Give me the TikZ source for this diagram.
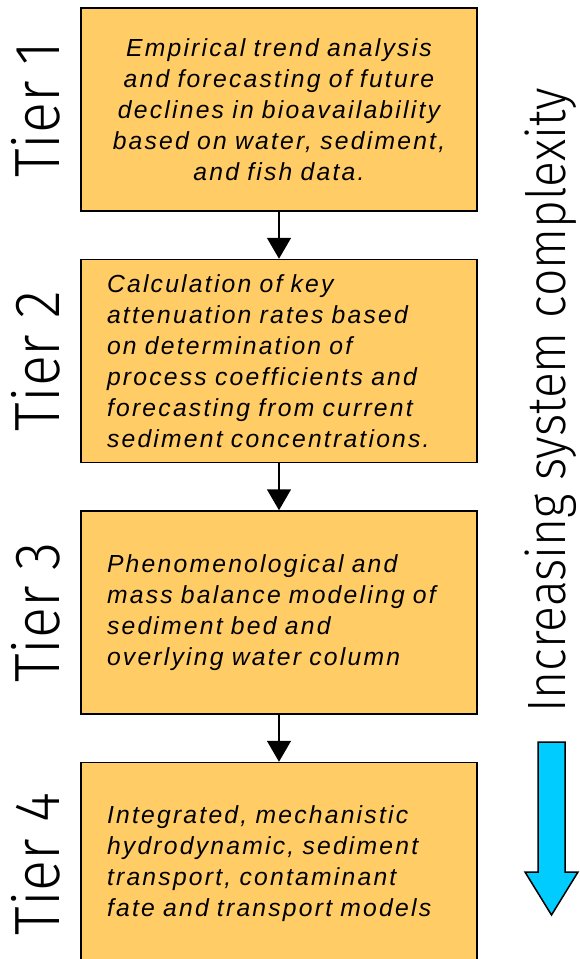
\documentclass[tikz,border=0pt]{standalone}
\usepackage{fontspec}
\setmainfont{Liberation Sans}
\newfontfamily\boxfont{Liberation Sans}[LetterSpace=9.0]
\newfontfamily\tierfont{Fira Sans Light}
\usetikzlibrary{positioning, arrows.meta}

\definecolor{tierorange}{RGB}{255,204,102}
\definecolor{flowcyan}{RGB}{0,204,255}

\tikzset{
    tierbox/.style={draw, line width=1.5pt, fill=tierorange, minimum width=396pt, minimum height=203pt,
        inner xsep=26pt, text width=344pt, font=\boxfont\itshape\fontsize{24.7}{31}\selectfont},
    tierlabel/.style={rotate=90, inner sep=0pt, font=\tierfont\fontsize{64}{64}\selectfont},
    link/.style={line width=1.5pt, -{Triangle[width=24pt, length=21pt]}}
}

\begin{document}
\begin{tikzpicture}[x=1pt, y=-1pt, node distance=47pt]

    % Frame
    \clip (0,0) rectangle (580,959);

    % Tier boxes
    \node[tierbox, align=center] (box1) at (279,109.5) {Empirical trend analysis\\ and forecasting of future\\ declines in bioavailability\\ based on water, sediment,\\ and fish data.};
    \node[tierbox, align=left, below=of box1] (box2) {Calculation of key\\ attenuation rates based\\ on determination of\\ process coefficients and\\ forecasting from current\\ sediment concentrations.};
    \node[tierbox, align=left, below=of box2] (box3) {Phenomenological and\\ mass balance modeling of\\ sediment bed and\\ overlying water column};
    \node[tierbox, align=left, below=of box3] (box4) {Integrated, mechanistic\\ hydrodynamic, sediment\\ transport, contaminant\\ fate and transport models};

    % Tier labels
    \node[tierlabel] (tier1) at ([xshift=-44pt]box1.west) {\scalebox{0.9}[1]{Tier 1}};
    \node[tierlabel] (tier2) at ([xshift=-44pt]box2.west) {\scalebox{0.9}[1]{Tier 2}};
    \node[tierlabel] (tier3) at ([xshift=-44pt]box3.west) {\scalebox{0.9}[1]{Tier 3}};
    \node[tierlabel] (tier4) at ([xshift=-44pt]box4.west) {\scalebox{0.9}[1]{Tier 4}};

    % Links
    \draw[link] (box1.south) -- (box2.north);
    \draw[link] (box2.south) -- (box3.north);
    \draw[link] (box3.south) -- (box4.north);

    % Complexity
    \node[rotate=90, anchor=base west, inner sep=0pt, font=\tierfont\fontsize{54}{54}\selectfont] (complexity) at (565,713) {\scalebox{0.89}[1]{Increasing system complexity}};
    \draw[line width=1.5pt, fill=flowcyan] (538,742) -- (565,742) -- (565,872) -- (578,872) -- (551.5,915) -- (525,872) -- (538,872) -- cycle;

\end{tikzpicture}
\end{document}
